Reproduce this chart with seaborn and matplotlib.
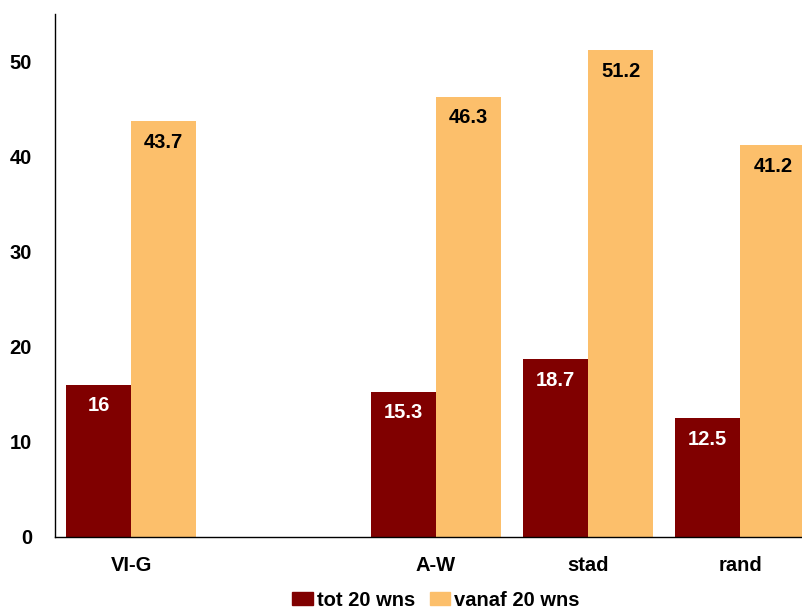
import matplotlib
matplotlib.use("Agg")
import matplotlib.pyplot as plt
import seaborn as sns
import pandas as pd
import numpy as np

categories = ["VI-G", "", "A-W", "stad", "rand"]
tot_20 = [16.0, np.nan, 15.3, 18.7, 12.5]
vanaf_20 = [43.7, np.nan, 46.3, 51.2, 41.2]
series_names = ["tot 20 wns", "vanaf 20 wns"]
colors = ["#800000", "#FCBF6B"]
yticks = [0, 10, 20, 30, 40, 50]

sns.set_style("white")
plt.rcParams["font.family"] = ["Liberation Sans", "DejaVu Sans"]
plt.rcParams["font.weight"] = "bold"
plt.rcParams["text.color"] = "black"
plt.rcParams["xtick.color"] = "black"
plt.rcParams["ytick.color"] = "black"

FS = 14.5

rows = []
for cat, a, b in zip(categories, tot_20, vanaf_20):
    rows.append({"cat": cat, "serie": series_names[0], "val": a})
    rows.append({"cat": cat, "serie": series_names[1], "val": b})
df = pd.DataFrame(rows)

fig = plt.figure(figsize=(8.03, 6.10), dpi=100)
# category slots are 152.3 px wide; the last slot runs past the right edge
ax = fig.add_axes([55 / 803, 1 - 537 / 610, 5 * 152.3 / 803, (537 - 14) / 610])

sns.barplot(data=df, x="cat", y="val", hue="serie", order=categories,
            hue_order=series_names, palette=colors, width=0.854,
            saturation=1, errorbar=None, ax=ax, legend=False, linewidth=0)

ax.set_xlim(-0.5, len(categories) - 0.5)
ax.set_ylim(0, 55)
ax.set_yticks(yticks)
ax.set_xlabel("")
ax.set_ylabel("")
for s in ["top", "right"]:
    ax.spines[s].set_visible(False)
for s in ["left", "bottom"]:
    ax.spines[s].set_color("black")
    ax.spines[s].set_linewidth(1.0)
ax.tick_params(axis="y", length=8, width=1, color="black", direction="out",
               labelsize=FS, pad=8.6, labelcolor="black")
ax.tick_params(axis="x", length=0, labelsize=FS, pad=14, labelcolor="black")
for lbl in ax.get_xticklabels() + ax.get_yticklabels():
    lbl.set_fontweight("bold")

# value labels inside the top of each bar
for container, tcol in zip(ax.containers, ["white", "black"]):
    for patch in container.patches:
        h = patch.get_height()
        if np.isnan(h):
            continue
        x = patch.get_x() + patch.get_width() / 2
        ax.annotate(f"{h:g}", xy=(x, h), xytext=(0, -21),
                    textcoords="offset pixels", ha="center", va="center",
                    color=tcol, fontsize=FS, fontweight="bold")

handles = [plt.Rectangle((0, 0), 1, 1, color=c) for c in colors]
fig.legend(handles, series_names, loc="center", ncol=2,
           bbox_to_anchor=(436 / 803, 1 - 600 / 610), frameon=False,
           prop={"size": FS, "weight": "bold"}, handlelength=1.0,
           handleheight=0.65, handletextpad=0.2, columnspacing=0.75,
           borderpad=0, borderaxespad=0)

fig.savefig("out.png", dpi=100)
